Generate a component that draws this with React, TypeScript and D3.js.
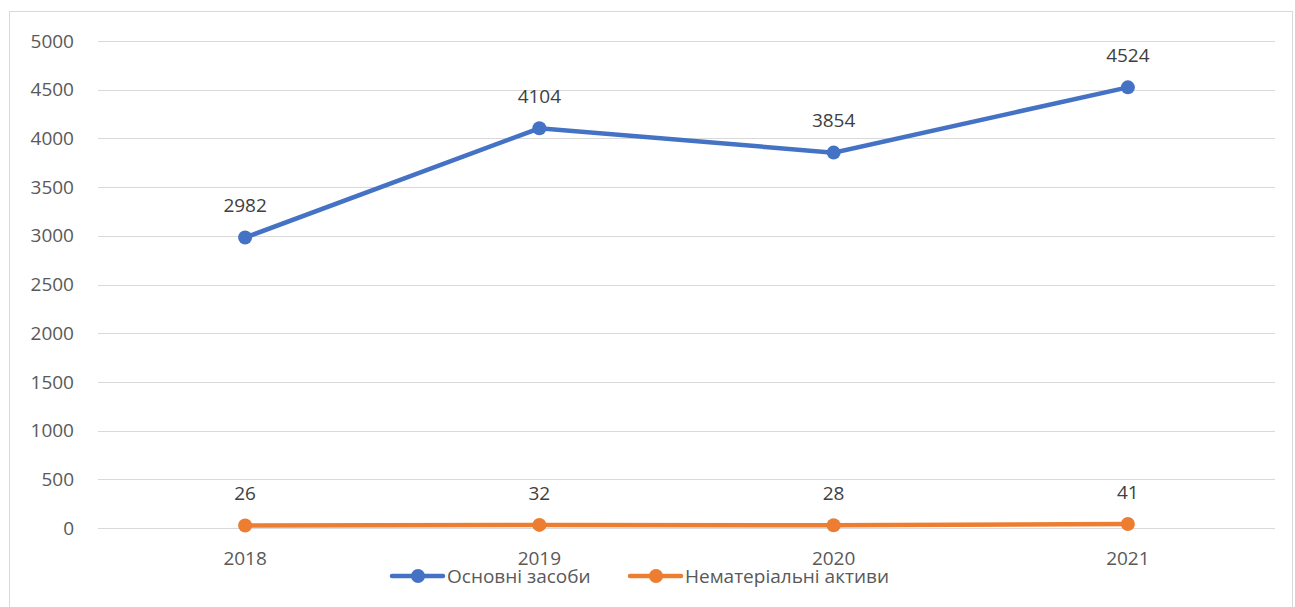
import React, { useEffect, useRef } from "react";
import * as d3 from "d3";

const years = ["2018", "2019", "2020", "2021"];
const fixedAssets = [2982, 4104, 3854, 4524];
const intangibleAssets = [26, 32, 28, 41];
const yTicks = [0, 500, 1000, 1500, 2000, 2500, 3000, 3500, 4000, 4500, 5000];
const seriesNames = ["Основні засоби", "Нематеріальні активи"];
const seriesColors = ["#4472c4", "#ed7d31"];

const App = () => {
  const svgRef = useRef<SVGSVGElement>(null);

  useEffect(() => {
    const width = 1295, height = 607;
    const left = 98, right = 1275, top = 41, bottom = 528;
    const font = "'Open Sans', 'Noto Sans', sans-serif";
    const fs = 19;

    const svg = d3.select(svgRef.current)
      .attr("width", width)
      .attr("height", height)
      .style("font-family", font);
    svg.selectAll("*").remove();

    svg.append("rect")
      .attr("x", 9.5).attr("y", 11.5)
      .attr("width", width - 12).attr("height", height)
      .attr("fill", "white")
      .attr("stroke", "#d9d9d9");

    const x = d3.scaleBand().domain(years).range([left, right]);
    const y = d3.scaleLinear().domain([0, 5000]).range([bottom, top]);
    const cx = (d: string) => (x(d) ?? 0) + x.bandwidth() / 2;

    // gridlines
    svg.append("g")
      .selectAll("line")
      .data(yTicks)
      .enter().append("line")
      .attr("x1", left).attr("x2", right)
      .attr("y1", d => Math.round(y(d)) + 0.5)
      .attr("y2", d => Math.round(y(d)) + 0.5)
      .attr("stroke", "#d9d9d9")
      .attr("stroke-width", 1);

    svg.append("g")
      .selectAll("text")
      .data(yTicks)
      .enter().append("text")
      .attr("x", 74)
      .attr("y", d => y(d))
      .attr("dy", "0.35em")
      .attr("text-anchor", "end")
      .attr("font-size", fs)
      .attr("fill", "#595959")
      .text(d => d);

    svg.append("g")
      .selectAll("text")
      .data(years)
      .enter().append("text")
      .attr("x", d => cx(d))
      .attr("y", 558)
      .attr("dy", "0.35em")
      .attr("text-anchor", "middle")
      .attr("font-size", fs)
      .attr("fill", "#595959")
      .text(d => d);

    const series = [fixedAssets, intangibleAssets];
    series.forEach((vals, i) => {
      const pts = years.map((yr, j) => ({ yr, v: vals[j] }));
      const line = d3.line<{ yr: string; v: number }>()
        .x(d => cx(d.yr))
        .y(d => y(d.v));
      svg.append("path")
        .datum(pts)
        .attr("d", line)
        .attr("fill", "none")
        .attr("stroke", seriesColors[i])
        .attr("stroke-width", 4.5)
        .attr("stroke-linecap", "round");
      svg.append("g")
        .selectAll("circle")
        .data(pts)
        .enter().append("circle")
        .attr("cx", d => cx(d.yr))
        .attr("cy", d => y(d.v))
        .attr("r", 7)
        .attr("fill", seriesColors[i]);
      svg.append("g")
        .selectAll("text")
        .data(pts)
        .enter().append("text")
        .attr("x", d => cx(d.yr))
        .attr("y", d => y(d.v) - 32)
        .attr("dy", "0.35em")
        .attr("text-anchor", "middle")
        .attr("font-size", fs)
        .attr("fill", "#404040")
        .text(d => d.v);
    });

    // legend
    const legendX = [392, 630];
    seriesNames.forEach((name, i) => {
      const g = svg.append("g").attr("transform", `translate(${legendX[i]},576)`);
      g.append("line")
        .attr("x1", 0).attr("x2", 51)
        .attr("stroke", seriesColors[i])
        .attr("stroke-width", 4.5)
        .attr("stroke-linecap", "round");
      g.append("circle").attr("cx", 26).attr("r", 7).attr("fill", seriesColors[i]);
      g.append("text")
        .attr("x", 55)
        .attr("dy", "0.35em")
        .attr("font-size", fs)
        .attr("fill", "#595959")
        .text(name);
    });
  }, []);

  return <svg ref={svgRef} style={{ position: "absolute", left: 0, top: 0 }}></svg>;
};

export default App;
